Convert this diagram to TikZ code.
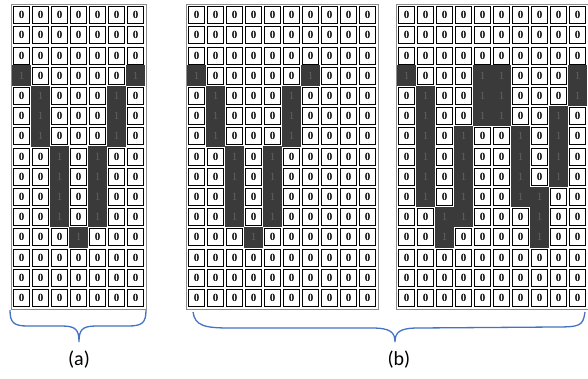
\documentclass[tikz,border=0pt]{standalone}
\usepackage{fontspec}
\setmainfont{Carlito}
\newfontfamily\digitfont{Liberation Serif}
\usetikzlibrary{positioning,fit,calc}
\definecolor{bracebl}{HTML}{4472C4}
\definecolor{inkcell}{HTML}{3A3A3A}

\begin{document}
\begin{tikzpicture}[
  x=1pt, y=-1pt,
  cell/.style={
    rectangle, draw=black, line width=1pt, fill=white,
    minimum width=16pt, minimum height=17pt, inner sep=0pt,
    font=\digitfont\fontsize{11}{11}\selectfont\bfseries,
  },
  ink/.style={rectangle, fill=inkcell, draw=none, inner sep=0pt,
              minimum width=19.4pt, minimum height=20.6pt,
              text=black!62, font=\digitfont\fontsize{11}{11}\selectfont},
  frame/.style={draw=black!45, line width=0.6pt, inner sep=2pt},
  brc/.style={draw=bracebl, line width=1.3pt},
  lbl/.style={font=\fontsize{20}{20}\selectfont},
]
  \useasboundingbox (0,0) rectangle (588,378);
  % GRID A : the V in 7 columns
  \foreach \r in {0,...,14}
    \foreach \c in {0,...,6}
      \node[cell] (a-\r-\c) at ({21.5+19*\c},{15.1+20.2*\r}) {0};
  \foreach \r/\c in {3/0,3/6,4/1,4/5,5/1,5/5,6/1,6/5,7/2,7/4,8/2,8/4,9/2,9/4,10/2,10/4,11/3}
    \node[ink] (ai-\r-\c) at (a-\r-\c) {1};
  \node[frame, fit=(a-0-0)(a-14-6)] (a-frame) {};
  % GRID B1 : the V in 10 columns
  \foreach \r in {0,...,14}
    \foreach \c in {0,...,9}
      \node[cell] (v-\r-\c) at ({196.5+19*\c},{15.1+20.2*\r}) {0};
  \foreach \r/\c in {3/0,3/6,4/1,4/5,5/1,5/5,6/1,6/5,7/2,7/4,8/2,8/4,9/2,9/4,10/2,10/4,11/3}
    \node[ink] (vi-\r-\c) at (v-\r-\c) {1};
  \node[frame, fit=(v-0-0)(v-14-9)] (v-frame) {};
  % GRID B2 : the W in 10 columns
  \foreach \r in {0,...,14}
    \foreach \c in {0,...,9}
      \node[cell] (w-\r-\c) at ({406.5+19*\c},{15.1+20.2*\r}) {0};
  \foreach \r/\c in {3/0,3/4,3/5,3/9,4/1,4/4,4/5,4/9,5/1,5/4,5/5,5/8,
                     6/1,6/3,6/6,6/8,7/1,7/3,7/6,7/8,8/1,8/3,8/6,8/8,
                     9/1,9/3,9/6,9/7,10/2,10/3,10/7,11/2,11/7}
    \node[ink] (wi-\r-\c) at (w-\r-\c) {1};
  \node[frame, fit=(w-0-0)(w-14-9)] (w-frame) {};
  % braces
  \coordinate (ba-l) at (10,310);
  \coordinate (ba-r) at (146,310);
  \coordinate (ba-t) at (79,342);
  \draw[brc] (ba-l) .. controls +(0,13) and +(-14,0) .. (28,326) -- (62,326)
    .. controls +(14,0) and +(0,-12) .. (ba-t)
    .. controls +(0,-12) and +(-14,0) .. (96,326) -- (128,326)
    .. controls +(14,0) and +(0,13) .. (ba-r);
  \coordinate (bb-l) at (193,312);
  \coordinate (bb-r) at (585,312);
  \coordinate (bb-t) at (395,342);
  \draw[brc] (bb-l) .. controls +(2,14) and +(-25,0) .. (230,328) -- (372,328)
    .. controls +(18,0) and +(0,-10) .. (bb-t)
    .. controls +(0,-10) and +(-18,0) .. (418,328) -- (555,327)
    .. controls +(25,0) and +(-2,14) .. (bb-r);
  % labels
  \node[lbl] (lbl-a) at (79,360) {(a)};
  \node[lbl] (lbl-b) at (399,360) {(b)};
\end{tikzpicture}
\end{document}
